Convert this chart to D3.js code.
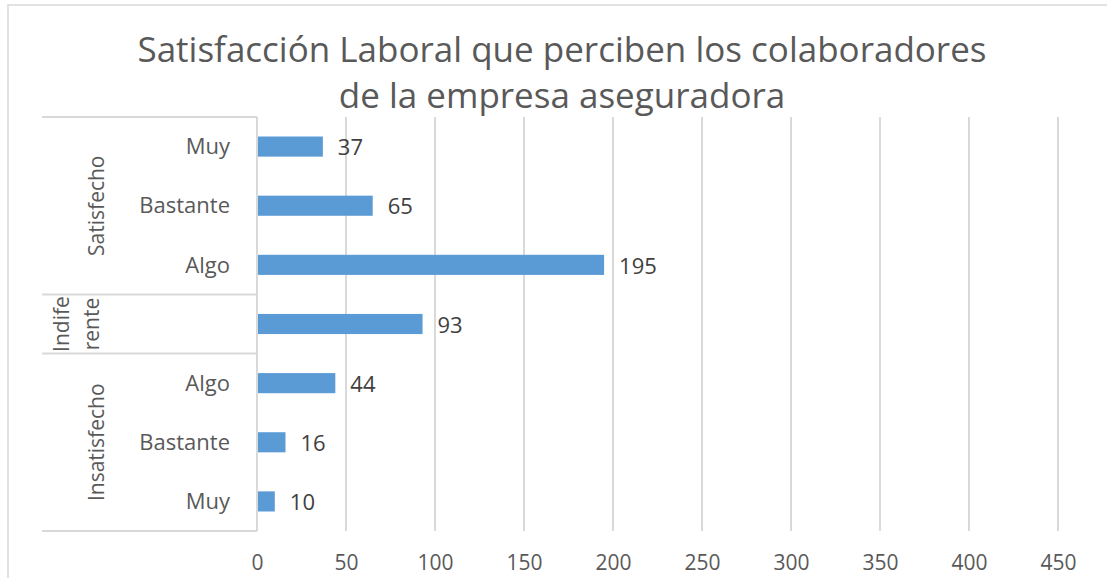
<!DOCTYPE html>
<html><head><meta charset="utf-8">
<script src="https://cdn.jsdelivr.net/npm/d3@7"></script>
<style>body{margin:0;background:#fff;} svg{display:block;}</style>
</head><body>
<svg id="chart" width="1107" height="578"></svg>
<script>
const titleLines = ["Satisfacción Laboral que perciben los colaboradores", "de la empresa aseguradora"];
const categories = ["Insatisfecho|Muy", "Insatisfecho|Bastante", "Insatisfecho|Algo", "Indiferente|", "Satisfecho|Algo", "Satisfecho|Bastante", "Satisfecho|Muy"];
const subLabels = ["Muy", "Bastante", "Algo", "", "Algo", "Bastante", "Muy"];
const values = [10, 16, 44, 93, 195, 65, 37];
const groups = [
  {lines: ["Insatisfecho"], from: 0, to: 2},
  {lines: ["Indife", "rente"], from: 3, to: 3},
  {lines: ["Satisfecho"], from: 4, to: 6}
];
const xTicks = [0, 50, 100, 150, 200, 250, 300, 350, 400, 450];

const svg = d3.select("#chart");
const font = "'Open Sans', 'Noto Sans', sans-serif";
const grid = "#d9d9d9";

// outer border
svg.append("path").attr("d", "M8,578 V5 H1107").attr("fill", "none").attr("stroke", grid).attr("stroke-width", 1.5);

// title
svg.append("g").selectAll("text").data(titleLines).join("text")
  .attr("x", 562).attr("y", (d, i) => 62 + i * 46)
  .attr("text-anchor", "middle").attr("font-family", font).attr("font-size", 35)
  .attr("fill", "#595959").text(d => d);

const x = d3.scaleLinear().domain([0, 450]).range([257, 1058]);
// reverse so first category (Insatisfecho Muy) at bottom
const y = d3.scaleBand().domain(categories.slice().reverse()).range([117, 531]).paddingInner(0.66).paddingOuter(0.33);
const yBand = d3.scaleBand().domain(categories.slice().reverse()).range([117, 531]);

// gridlines
svg.append("g").selectAll("line").data(xTicks.slice(1)).join("line")
  .attr("x1", d => x(d)).attr("x2", d => x(d)).attr("y1", 117).attr("y2", 531)
  .attr("stroke", grid).attr("stroke-width", 2);

// x axis tick labels
const xAxis = d3.axisBottom(x).tickValues(xTicks).tickSize(0).tickPadding(0);
const gx = svg.append("g").attr("transform", "translate(0,563)").call(xAxis);
gx.select(".domain").remove();
gx.selectAll("text").attr("font-family", font).attr("font-size", 21).attr("fill", "#595959").attr("dy", "0.35em").attr("y", 0).attr("transform", null);

// bars
svg.append("g").selectAll("rect").data(values).join("rect")
  .attr("x", x(0)).attr("y", (d, i) => y(categories[i]))
  .attr("width", d => x(d) - x(0)).attr("height", y.bandwidth())
  .attr("fill", "#5b9bd5");

// data labels
svg.append("g").selectAll("text").data(values).join("text")
  .attr("x", d => x(d) + 15).attr("y", (d, i) => y(categories[i]) + y.bandwidth() / 2 + 1)
  .attr("dy", "0.35em").attr("font-family", font).attr("font-size", 22).attr("fill", "#404040")
  .text(d => d);

// category axis box
const box = svg.append("g").attr("stroke", grid).attr("stroke-width", 2);
box.append("line").attr("x1", x(0)).attr("x2", x(0)).attr("y1", 117).attr("y2", 531);
const bounds = [117, 531].concat(groups.map(g => yBand(categories[g.to])));
box.selectAll("line.h").data(bounds).join("line").attr("class", "h")
  .attr("x1", 42).attr("x2", x(0)).attr("y1", d => d).attr("y2", d => d);

// sub labels
svg.append("g").selectAll("text").data(subLabels).join("text")
  .attr("x", 230).attr("y", (d, i) => yBand(categories[i]) + yBand.bandwidth() / 2)
  .attr("dy", "0.35em").attr("text-anchor", "end").attr("font-family", font).attr("font-size", 22)
  .attr("fill", "#595959").text(d => d);

// group labels (rotated)
groups.forEach(g => {
  const top = yBand(categories[g.to]);
  const bot = yBand(categories[g.from]) + yBand.bandwidth();
  const cy = (top + bot) / 2;
  const n = g.lines.length;
  g.lines.forEach((ln, j) => {
    const cx = n === 1 ? 97 : 62 + j * 30;
    svg.append("text")
      .attr("transform", `translate(${cx},${cy}) rotate(-90)`)
      .attr("text-anchor", "middle").attr("dy", "0.35em")
      .attr("font-family", font).attr("font-size", 21).attr("fill", "#595959")
      .text(ln);
  });
});
</script>
</body></html>
